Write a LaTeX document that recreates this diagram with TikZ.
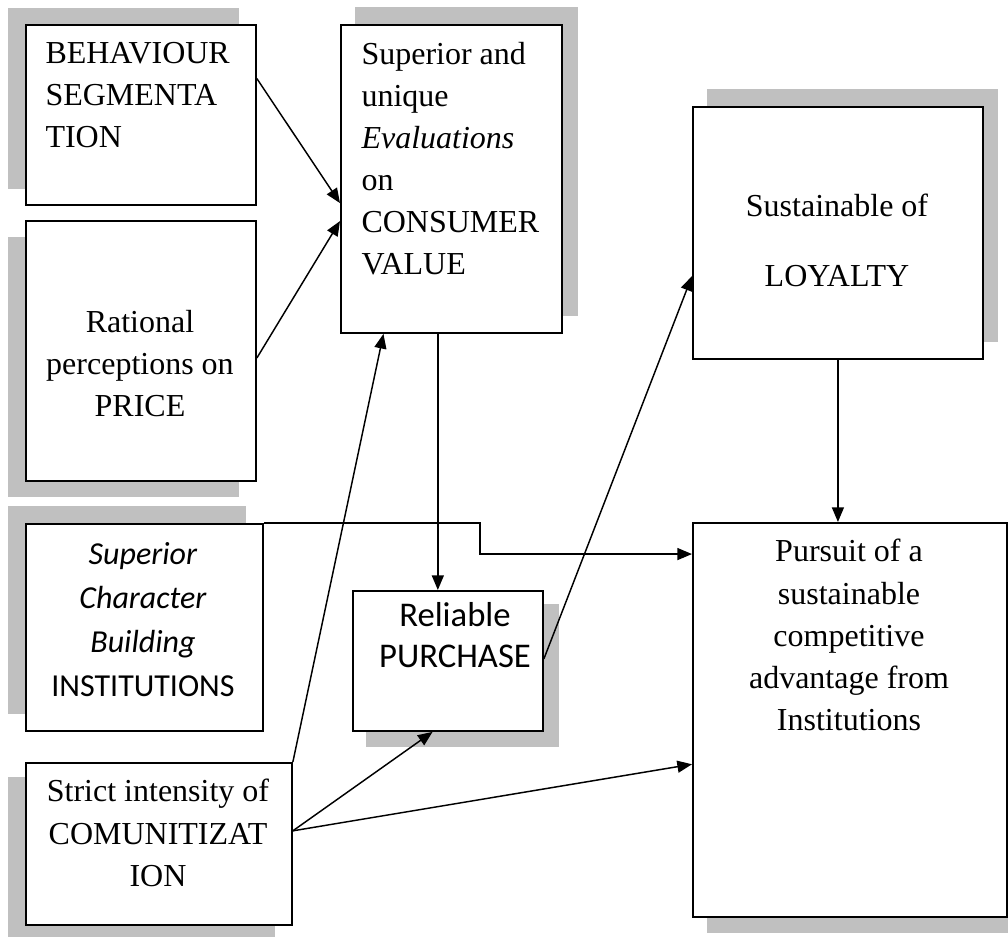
\documentclass[tikz,border=0pt]{standalone}
\usepackage{fontspec}
\setmainfont{Liberation Serif}
\newfontfamily\carlito{Carlito}
\usetikzlibrary{arrows.meta,calc}
\definecolor{shadowgray}{RGB}{192,192,192}

\tikzset{every picture/.style={line width=0.75pt}}
\tikzset{
  box/.style={draw, line width=1.4pt, fill=white, inner sep=0pt, anchor=north west},
  shadowfill/.style={fill=shadowgray},
  link/.style={line width=1.1pt, -{Triangle[length=11pt,width=9pt]}},
  txt/.style={inner sep=0pt, font=\fontsize{24}{31.5}\selectfont},
}

\begin{document}
\begin{tikzpicture}[x=0.75pt,y=0.75pt,yscale=-1,xscale=1]
    \useasboundingbox (0,0) rectangle (1008,937);

    %Shadows
    \fill[shadowfill] (8,8) rectangle (239,189);
    \fill[shadowfill] (8,237) rectangle (239,497);
    \fill[shadowfill] (8,506) rectangle (246,714);
    \fill[shadowfill] (8,777) rectangle (275,937);
    \fill[shadowfill] (355,7) rectangle (578,316);
    \fill[shadowfill] (366,604) rectangle (559,747);
    \fill[shadowfill] (707,89) rectangle (998,342);
    \fill[shadowfill] (707,539) rectangle (1008,933);

    %Boxes
    \node[box, minimum width=172.5pt, minimum height=135pt] (bseg) at (25,24) {};
    \node[box, minimum width=172.5pt, minimum height=195pt] (price) at (25,220) {};
    \node[box, minimum width=177.75pt, minimum height=155.25pt] (inst) at (25,523) {};
    \node[box, minimum width=199.5pt, minimum height=121.5pt] (comm) at (25,762) {};
    \node[box, minimum width=165.75pt, minimum height=231pt] (value) at (340,24) {};
    \node[box, minimum width=142.5pt, minimum height=105pt] (purch) at (352,590) {};
    \node[box, minimum width=217.5pt, minimum height=189pt] (loyal) at (692,106) {};
    \node[box, minimum width=235.5pt, minimum height=295.5pt] (pursuit) at (692,522) {};

    % Text Node (anchored at the baseline of the last line)
    \node[txt, anchor=base west, align=left] (bsegtxt) at (45,148) {BEHAVIOUR\\SEGMENTA\\TION};
    % Text Node
    \node[txt, anchor=base, align=center] (pricetxt) at (140,417) {Rational\\perceptions on\\PRICE};
    % Text Node
    \node[txt, anchor=base, align=center, font=\carlito\fontsize{24}{33}\selectfont] (insttxt) at (143,697) {\textit{Superior}\\\textit{Character}\\\textit{Building}\\INSTITUTIONS};
    % Text Node
    \node[txt, anchor=base, align=center, font=\fontsize{24}{32}\selectfont] (commtxt) at (158,887) {Strict intensity of\\COMUNITIZAT\\ION};
    % Text Node
    \node[txt, anchor=base west, align=left] (valuetxt) at (361,275) {Superior and\\unique\\\textit{Evaluations}\\on\\CONSUMER\\VALUE};
    % Text Node
    \node[txt, anchor=base, align=center, font=\carlito\fontsize{26}{30.75}\selectfont] (purchtxt) at (455,668) {Reliable\\PURCHASE};
    % Text Node
    \node[txt, anchor=base, align=center] (loyaltxt) at (837,287) {Sustainable of\\[21pt]LOYALTY};
    % Text Node
    \node[txt, anchor=base, align=center, font=\fontsize{24}{31.7}\selectfont] (pursuittxt) at (849,731) {Pursuit of a\\sustainable\\competitive\\advantage from\\Institutions};

    %Connectors
    \draw[link] ($(bseg.north east)!0.3!(bseg.south east)$) -- ($(value.north west)!0.578!(value.south west)$);
    \draw[link] ($(price.north east)!0.527!(price.south east)$) -- ($(value.north west)!0.636!(value.south west)$);
    \draw[link] (comm.north east) -- ($(value.south west)!0.195!(value.south east)$);
    \coordinate (valueout) at ($(value.south west)!0.439!(value.south east)$);
    \draw[link] (valueout) -- (valueout |- purch.north);
    \draw[link] ($(purch.north east)!0.486!(purch.south east)$) -- ($(loyal.north west)!0.67!(loyal.south west)$);
    \draw[link] (loyal.south) -- (loyal.south |- pursuit.north);
    \coordinate (commout) at ($(comm.north east)!0.42!(comm.south east)$);
    \draw[link] (commout) -- ($(purch.south west)!0.42!(purch.south east)$);
    \draw[link] (commout) -- ($(pursuit.north west)!0.612!(pursuit.south west)$);
    \draw[link] (inst.north east) -- ++(216,0) |- ($(pursuit.north west)!0.081!(pursuit.south west)$);

\end{tikzpicture}
\end{document}
